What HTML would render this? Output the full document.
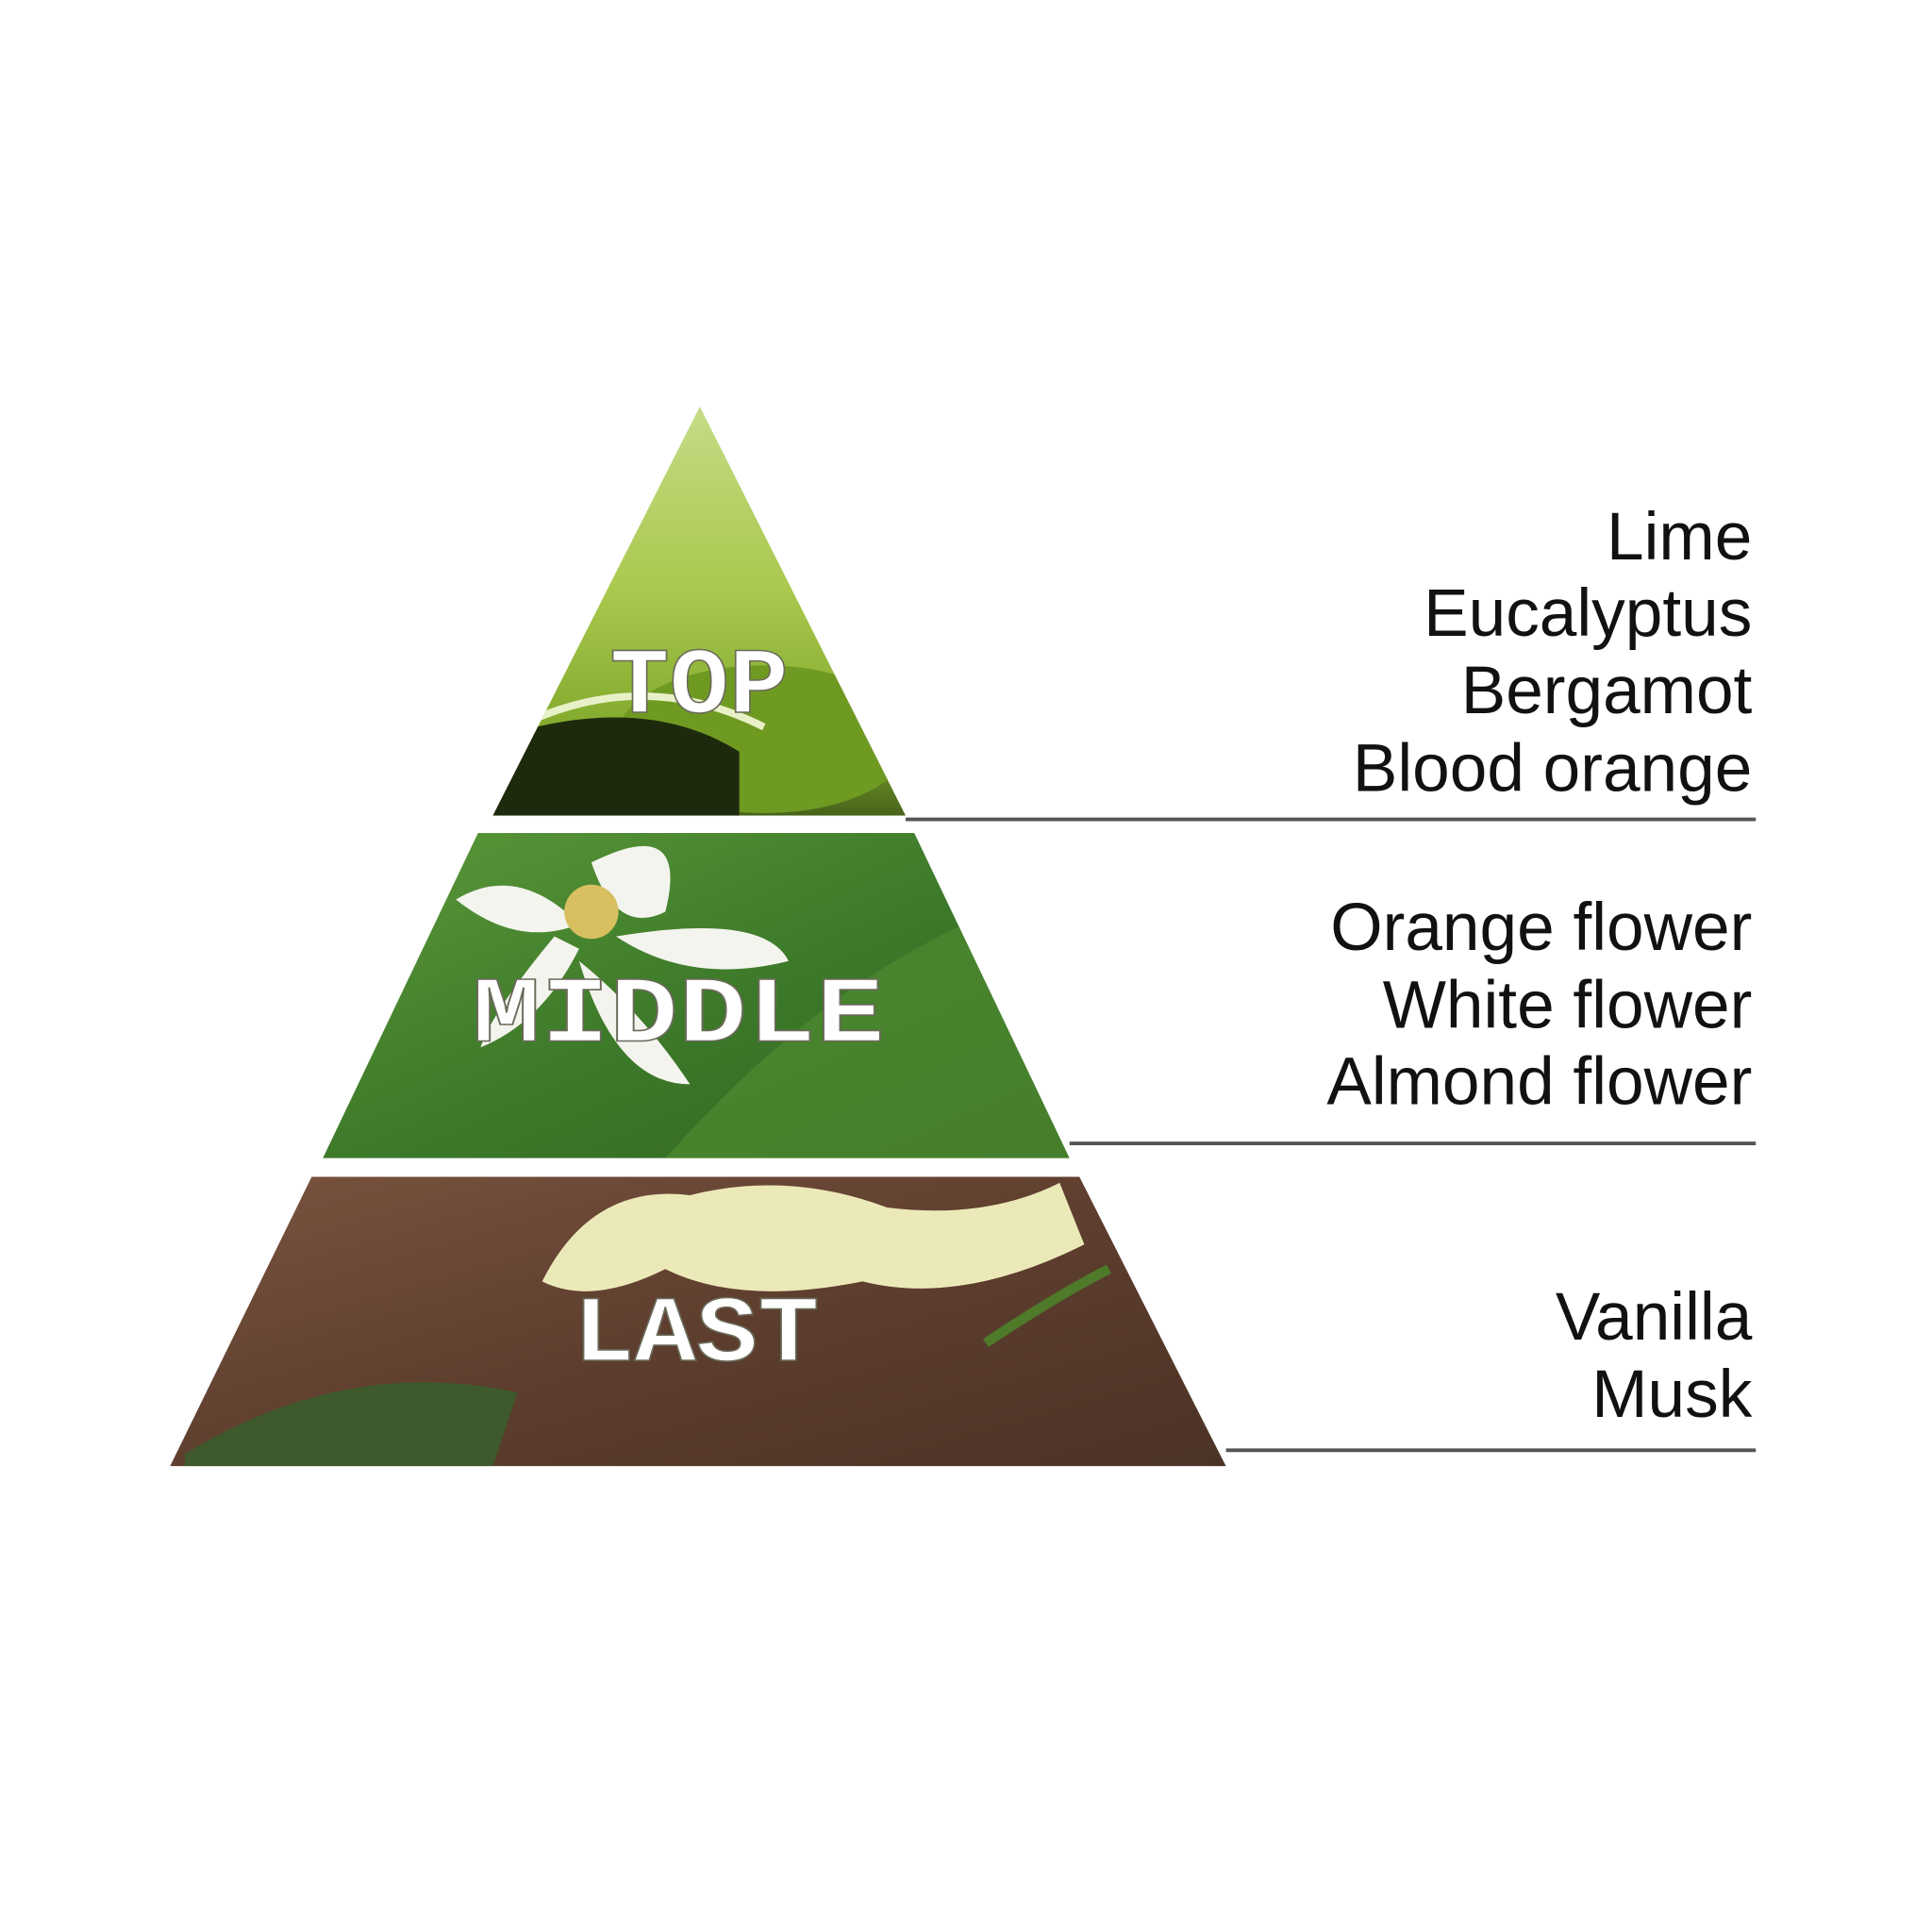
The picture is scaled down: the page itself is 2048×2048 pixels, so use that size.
<!DOCTYPE html>
<html><head><meta charset="utf-8"><style>
html,body{margin:0;padding:0;background:#fff}
svg{display:block}
</style></head><body>
<svg width="2048" height="2048" viewBox="0 0 1568 1568" xmlns="http://www.w3.org/2000/svg">
<defs>
<linearGradient id="gTop" x1="0" y1="0" x2="0" y2="1">
<stop offset="0" stop-color="#c8dc8a"/><stop offset="0.45" stop-color="#a9c94e"/><stop offset="0.8" stop-color="#7fa82a"/><stop offset="1" stop-color="#3f5a18"/>
</linearGradient>
<linearGradient id="gMid" x1="0" y1="0" x2="1" y2="1">
<stop offset="0" stop-color="#5d9a3a"/><stop offset="0.5" stop-color="#3d7a2a"/><stop offset="1" stop-color="#2f6322"/>
</linearGradient>
<linearGradient id="gLast" x1="0" y1="0" x2="1" y2="1">
<stop offset="0" stop-color="#7a5440"/><stop offset="0.5" stop-color="#5e3e2e"/><stop offset="1" stop-color="#4a3226"/>
</linearGradient>
<clipPath id="cTop"><polygon points="568,330 735,662 400,662"/></clipPath>
<clipPath id="cMid"><polygon points="388,676 742,676 868,940 262,940"/></clipPath>
<clipPath id="cLast"><polygon points="253,955 876,955 995,1190 138,1190"/></clipPath>
</defs>

<g clip-path="url(#cTop)">
<rect x="380" y="320" width="380" height="350" fill="url(#gTop)"/>
<ellipse cx="620" cy="600" rx="120" ry="60" fill="#6f9a22"/>
<path d="M400,600 Q520,560 600,610 L600,670 L400,670Z" fill="#1e2a0e"/>
<path d="M420,590 Q520,540 620,590" stroke="#e8f0c8" stroke-width="6" fill="none"/>
</g>
<g clip-path="url(#cMid)">
<rect x="250" y="670" width="630" height="280" fill="url(#gMid)"/>
<path d="M540,940 Q700,760 870,720 L880,940Z" fill="#4e8a30" opacity="0.7"/>
<path d="M480,700 Q560,660 540,740 Q500,760 480,700Z" fill="#f4f4ee"/>
<path d="M370,730 Q420,700 470,750 Q420,770 370,730Z" fill="#f4f4ee"/>
<path d="M500,760 Q620,740 640,780 Q560,800 500,760Z" fill="#f4f4ee"/>
<path d="M470,780 Q520,820 560,880 Q500,880 470,780Z" fill="#f4f4ee"/>
<path d="M450,760 Q400,820 390,850 Q440,830 470,770Z" fill="#f4f4ee"/>
<circle cx="480" cy="740" r="22" fill="#d8c060"/>
</g>
<g clip-path="url(#cLast)">
<rect x="130" y="950" width="880" height="250" fill="url(#gLast)"/>
<path d="M150,1180 Q280,1100 420,1130 L400,1190 L150,1190Z" fill="#3e5a2c"/>
<path d="M440,1040 Q480,960 560,970 Q640,950 720,980 Q800,990 860,960 L880,1010 Q780,1060 700,1040 Q600,1060 540,1030 Q480,1060 440,1040Z" fill="#ece9b8"/>
<path d="M800,1090 Q860,1050 900,1030" stroke="#4e7a2a" stroke-width="8" fill="none"/>
</g>

<g font-family="'Liberation Mono','Courier New','Liberation Serif', monospace" font-weight="bold" fill="#ffffff" stroke="#6a6a5a" stroke-width="1.2">
<text x="495" y="578" font-size="76" textLength="145" lengthAdjust="spacingAndGlyphs">TOP</text>
<text x="383" y="845" font-size="76" textLength="335" lengthAdjust="spacingAndGlyphs">MIDDLE</text>
<text x="465" y="1104" font-size="76" textLength="200" lengthAdjust="spacingAndGlyphs">LAST</text>
</g>

<g stroke="#555" stroke-width="3">
<line x1="735" y1="665" x2="1425" y2="665"/>
<line x1="868" y1="928" x2="1425" y2="928"/>
<line x1="995" y1="1177" x2="1425" y2="1177"/>
</g>

<g font-family="'Liberation Sans', sans-serif" font-size="54.5" fill="#111" text-anchor="end">
<text x="1422" y="454">Lime</text>
<text x="1422" y="516">Eucalyptus</text>
<text x="1422" y="579">Bergamot</text>
<text x="1422" y="642">Blood orange</text>
<text x="1422" y="771">Orange flower</text>
<text x="1422" y="834">White flower</text>
<text x="1422" y="896">Almond flower</text>
<text x="1422" y="1087">Vanilla</text>
<text x="1422" y="1150">Musk</text>
</g>
</svg>
</body></html>
